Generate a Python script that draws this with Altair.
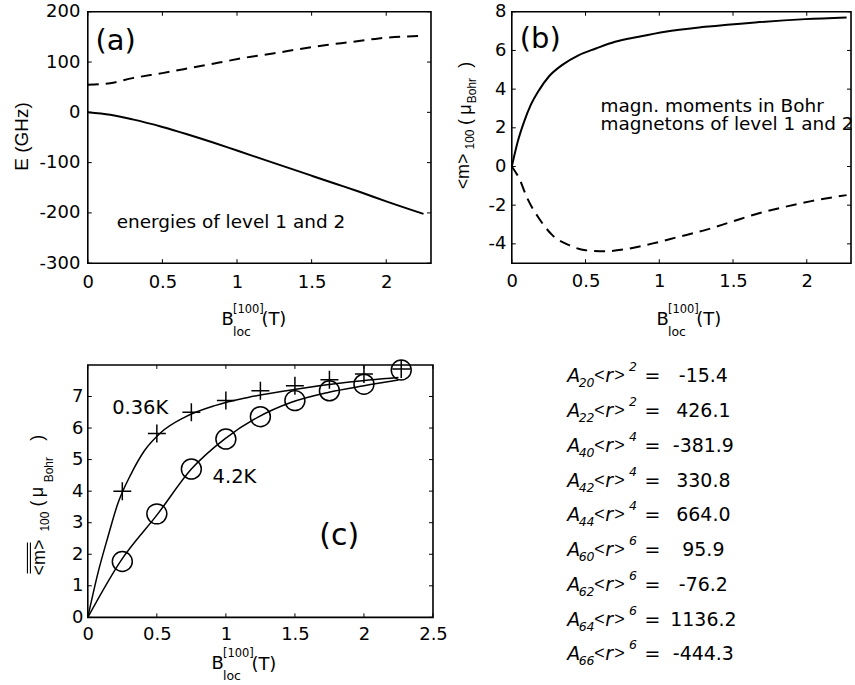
import altair as alt
import pandas as pd

# ---------------- data ----------------
# panel (a): energies of level 1 (solid) and level 2 (dashed)
a_B1 = [0, 0.15, 0.3, 0.5, 0.66, 0.84, 1.0, 1.2, 1.37, 1.5, 1.66, 1.82, 2.0, 2.25]
a_E1 = [0, -5, -14, -29, -43, -60, -76, -96, -113, -126, -142, -158, -177, -202]
a_B2 = [0, 0.15, 0.3, 0.5, 0.7, 0.88, 1.06, 1.24, 1.42, 1.6, 1.77, 1.95, 2.25]
a_E2 = [55, 58, 68, 78, 89, 99, 109, 117, 126, 134, 140, 147, 152]
a_xticks = [0, 0.5, 1, 1.5, 2]
a_yticks = [-300, -200, -100, 0, 100, 200]

# panel (b): magnetic moments of level 1 (solid) and level 2 (dashed)
b_B1 = [0, 0.04, 0.083, 0.128, 0.185, 0.25, 0.34, 0.455, 0.57, 0.70, 0.86, 1.04, 1.31, 1.65, 1.99, 2.27]
b_M1 = [0, 1.28, 2.31, 3.17, 3.95, 4.64, 5.24, 5.76, 6.1, 6.45, 6.71, 6.97, 7.22, 7.45, 7.62, 7.71]
b_B2 = [0, 0.05, 0.106, 0.185, 0.275, 0.39, 0.5, 0.635, 0.77, 0.95, 1.13, 1.31, 1.49, 1.67, 1.85, 2.03, 2.27]
b_M2 = [0, -0.62, -1.66, -2.69, -3.55, -4.07, -4.33, -4.38, -4.28, -3.99, -3.64, -3.29, -2.86, -2.43, -2.09, -1.79, -1.48]
b_xticks = [0, 0.5, 1, 1.5, 2]
b_yticks = [-4, -2, 0, 2, 4, 6, 8]

# panel (c): calculated curves and measured points at 0.36 K and 4.2 K
c_fitB_lo = [0, 0.072, 0.145, 0.217, 0.314, 0.41, 0.53, 0.70, 0.92, 1.16, 1.52, 1.88, 2.25]
c_fit_lo = [0, 1.38, 2.54, 3.6, 4.55, 5.28, 5.86, 6.34, 6.71, 6.97, 7.24, 7.45, 7.6]
c_fitB_hi = [0, 0.24, 0.507, 0.75, 0.99, 1.23, 1.47, 1.74, 2.0, 2.25]
c_fit_hi = [0, 1.80, 3.28, 4.7, 5.65, 6.34, 6.81, 7.13, 7.34, 7.52]
c_meas_B = [0.25, 0.5, 0.75, 1.0, 1.25, 1.5, 1.75, 2.0, 2.27]
c_meas_lo = [4.0, 5.83, 6.5, 6.87, 7.18, 7.34, 7.53, 7.71, 7.87]
c_meas_hi = [1.77, 3.28, 4.7, 5.65, 6.36, 6.87, 7.18, 7.39, 7.84]
c_xticks = [0, 0.5, 1, 1.5, 2, 2.5]
c_yticks = [0, 1, 2, 3, 4, 5, 6, 7]

# crystal-field parameters
cf_lm = ["20", "22", "40", "42", "44", "60", "62", "64", "66"]
cf_n = ["2", "2", "4", "4", "4", "6", "6", "6", "6"]
cf_val = [-15.4, 426.1, -381.9, 330.8, 664.0, 95.9, -76.2, 1136.2, -444.3]

# ---------------- helpers ----------------
FONT = "DejaVu Sans"
RFONT = "Liberation Sans"
ONE = pd.DataFrame({"k": [0]})


def txt(s, x, y, size=18, font=FONT, angle=0, align="center", baseline="middle", style="normal"):
    return alt.Chart(ONE).mark_text(
        text=s, fontSize=size, font=font, angle=angle, align=align,
        baseline=baseline, fontStyle=style, color="black"
    ).encode(x=alt.value(x), y=alt.value(y))


def vline(x, y1, y2, w=1.1):
    return alt.Chart(ONE).mark_rule(color="black", strokeWidth=w).encode(
        x=alt.value(x), y=alt.value(y1), y2=alt.value(y2))


def axis_makers(xd, yd, xt, yt, xpad, ypad):
    xs = alt.Scale(domain=xd, nice=False, zero=False)
    ys = alt.Scale(domain=yd, nice=False, zero=False)
    common = dict(labelExpr="datum.value + ''", ticks=False, tickSize=0, domain=False,
                  grid=False, labelFlush=False, labelOverlap=False, labelFont=FONT,
                  labelFontSize=18, labelColor="black")
    xa = alt.Axis(values=xt, orient="bottom", labelPadding=xpad, **common)
    ya = alt.Axis(values=yt, orient="left", labelPadding=ypad, **common)

    def XF(f):
        return alt.X(f, type="quantitative", scale=xs, axis=xa, title=None)

    def YF(f):
        return alt.Y(f, type="quantitative", scale=ys, axis=ya, title=None)
    return XF, YF


def inner_ticks(xt, yt, XF, YF, W, H, L=4):
    rx = alt.Chart(pd.DataFrame({"tx": xt})).mark_rule(color="black", strokeWidth=1)
    ry = alt.Chart(pd.DataFrame({"ty": yt})).mark_rule(color="black", strokeWidth=1)
    return [
        rx.encode(x=XF("tx"), y=alt.value(H), y2=alt.value(H - L)),
        rx.encode(x=XF("tx"), y=alt.value(0), y2=alt.value(L)),
        ry.encode(y=YF("ty"), x=alt.value(0), x2=alt.value(L)),
        ry.encode(y=YF("ty"), x=alt.value(W), x2=alt.value(W - L)),
    ]


def bxtitle(xb, y):
    # B_loc^[100](T), positioned by left edges
    return [
        txt("B", xb, y, 18, align="left"),
        txt("[100]", xb + 11.5, y - 10, 11.5, align="left"),
        txt("loc", xb + 11.5, y + 12, 12.5, align="left"),
        txt("(T)", xb + 40, y + 0.5, 18, align="left"),
    ]


FRAME = alt.ViewBackground(stroke="black", strokeWidth=1.6)

# ---------------- panel (a) ----------------
WA, HA = 344, 252
XA, YA = axis_makers([0, 2.3], [-300, 200], a_xticks, a_yticks, 10, 8)
pa = [
    alt.Chart(pd.DataFrame({"B": a_B1, "E": a_E1})).mark_line(
        color="black", strokeWidth=2, interpolate="monotone").encode(x=XA("B"), y=YA("E")),
    alt.Chart(pd.DataFrame({"B": a_B2, "E": a_E2})).mark_line(
        color="black", strokeWidth=2, strokeDash=[11, 7], interpolate="monotone").encode(x=XA("B"), y=YA("E")),
    *inner_ticks(a_xticks, a_yticks, XA, YA, WA, HA),
    txt("(a)", 28, 38, 29, baseline="alphabetic"),
    txt("energies of level 1 and 2", 29, 216.5, 18.5, align="left", baseline="alphabetic"),
    txt("E (GHz)", -66, 125, 19, font=RFONT, angle=270),
    *bxtitle(134, 308.5),
]
chart_a = alt.layer(*pa).properties(width=WA, height=HA, view=FRAME)

# ---------------- panel (b) ----------------
WB, HB = 340, 252
XB, YB = axis_makers([0, 2.3], [-5, 8], b_xticks, b_yticks, 9.5, 6)
pb = [
    alt.Chart(pd.DataFrame({"B": b_B1, "M": b_M1})).mark_line(
        color="black", strokeWidth=2, interpolate="monotone").encode(x=XB("B"), y=YB("M")),
    alt.Chart(pd.DataFrame({"B": b_B2, "M": b_M2})).mark_line(
        color="black", strokeWidth=2, strokeDash=[11, 7], interpolate="monotone").encode(x=XB("B"), y=YB("M")),
    *inner_ticks(b_xticks, b_yticks, XB, YB, WB, HB),
    txt("(b)", 28.5, 36, 29, baseline="alphabetic"),
    txt("magn. moments in Bohr", 89, 100, 18.5, align="left", baseline="alphabetic"),
    txt("magnetons of level 1 and 2", 89, 119, 18.5, align="left", baseline="alphabetic"),
    txt("<m>", -48, 160, 18, font=RFONT, angle=270),
    txt("100", -42, 128, 12, font=RFONT, angle=270),
    txt("(", -46, 110.5, 18, font=RFONT, angle=270),
    txt("\u03bc", -46, 98, 18, font=RFONT, angle=270),
    txt("Bohr", -39.5, 79, 12, font=RFONT, angle=270),
    txt(")", -46, 53, 18, font=RFONT, angle=270),
    *bxtitle(145, 308.5),
]
chart_b = alt.layer(*pb).properties(width=WB, height=HB, view=FRAME)

# ---------------- panel (c) ----------------
WC, HC = 346, 253
XC, YC = axis_makers([0, 2.5], [0, 8], c_xticks, c_yticks, 8.5, 5)
CROSS = "M-1,0L1,0M0,-1L0,1"
pc = [
    alt.Chart(pd.DataFrame({"B": c_fitB_lo, "m": c_fit_lo})).mark_line(
        color="black", strokeWidth=1.5, interpolate="monotone").encode(x=XC("B"), y=YC("m")),
    alt.Chart(pd.DataFrame({"B": c_fitB_hi, "m": c_fit_hi})).mark_line(
        color="black", strokeWidth=1.5, interpolate="monotone").encode(x=XC("B"), y=YC("m")),
    alt.Chart(pd.DataFrame({"B": c_meas_B, "m": c_meas_lo})).mark_point(
        shape=CROSS, size=324, filled=False, color="black", strokeWidth=1.5, opacity=1).encode(x=XC("B"), y=YC("m")),
    alt.Chart(pd.DataFrame({"B": c_meas_B, "m": c_meas_hi})).mark_point(
        shape="circle", size=400, filled=False, color="black", strokeWidth=1.5, opacity=1).encode(x=XC("B"), y=YC("m")),
    *inner_ticks(c_xticks, c_yticks, XC, YC, WC, HC),
    txt("0.36K", 52.5, 43, 19.5),
    txt("4.2K", 147, 112.5, 19.5),
    txt("(c)", 252, 180, 30, baseline="alphabetic"),
    vline(-60.5, 178, 209),
    vline(-57.5, 178, 209),
    txt("<m>", -48, 193, 18, font=RFONT, angle=270),
    txt("100", -42.5, 157, 12, font=RFONT, angle=270),
    txt("(", -50, 139, 18, font=RFONT, angle=270),
    txt("\u03bc", -50, 127.5, 18, font=RFONT, angle=270),
    txt("Bohr", -39, 105, 12, font=RFONT, angle=270),
    txt(")", -50, 73, 18, font=RFONT, angle=270),
    *bxtitle(124, 300),
]
chart_c = alt.layer(*pc).properties(width=WC, height=HC, view=FRAME)

# ---------------- text block ----------------
dtb = pd.DataFrame({
    "row": list(range(len(cf_lm))),
    "sub": cf_lm,
    "sup": cf_n,
    "val": [f"{v:.1f}" for v in cf_val],
})
Yr = alt.Y("row:Q", scale=alt.Scale(domain=[0, 8], range=[11.5, 290]), axis=None)
tb = alt.Chart(dtb)
pt = [
    tb.mark_text(text="A", font=FONT, fontStyle="italic", fontSize=19, color="black").encode(x=alt.value(15), y=Yr),
    tb.mark_text(font=FONT, fontStyle="italic", fontSize=12.5, dy=7, color="black").encode(x=alt.value(28), y=Yr, text="sub:N"),
    tb.mark_text(text="<", font=RFONT, fontSize=18, color="black").encode(x=alt.value(41), y=Yr),
    tb.mark_text(text="r", font=FONT, fontStyle="italic", fontSize=19, color="black").encode(x=alt.value(50.5), y=Yr),
    tb.mark_text(text=">", font=RFONT, fontSize=18, color="black").encode(x=alt.value(61), y=Yr),
    tb.mark_text(font=FONT, fontStyle="italic", fontSize=12.5, dy=-9, color="black").encode(x=alt.value(74.5), y=Yr, text="sup:N"),
    tb.mark_text(text="=", font=FONT, fontSize=19, color="black").encode(x=alt.value(94), y=Yr),
    tb.mark_text(font=FONT, fontSize=19, color="black").encode(x=alt.value(145), y=Yr, text="val:N"),
]
chart_t = alt.layer(*pt).properties(width=200, height=300,
                                    view=alt.ViewBackground(strokeOpacity=0))

top = alt.hconcat(chart_a, chart_b, spacing=81, bounds="flush")
bottom = alt.hconcat(chart_c, chart_t, spacing=126, bounds="flush")
# with flush bounds the nested row counts as zero height, so the spacing
# carries the full offset from the top row's origin to the bottom row's origin
chart = alt.vconcat(top, bottom, spacing=354, bounds="flush").properties(
    padding={"left": 12, "top": 1, "right": 0, "bottom": 0},
    background="white",
).configure(font=FONT)

chart.save("out.html", embed_options={"renderer": "svg", "actions": False})
